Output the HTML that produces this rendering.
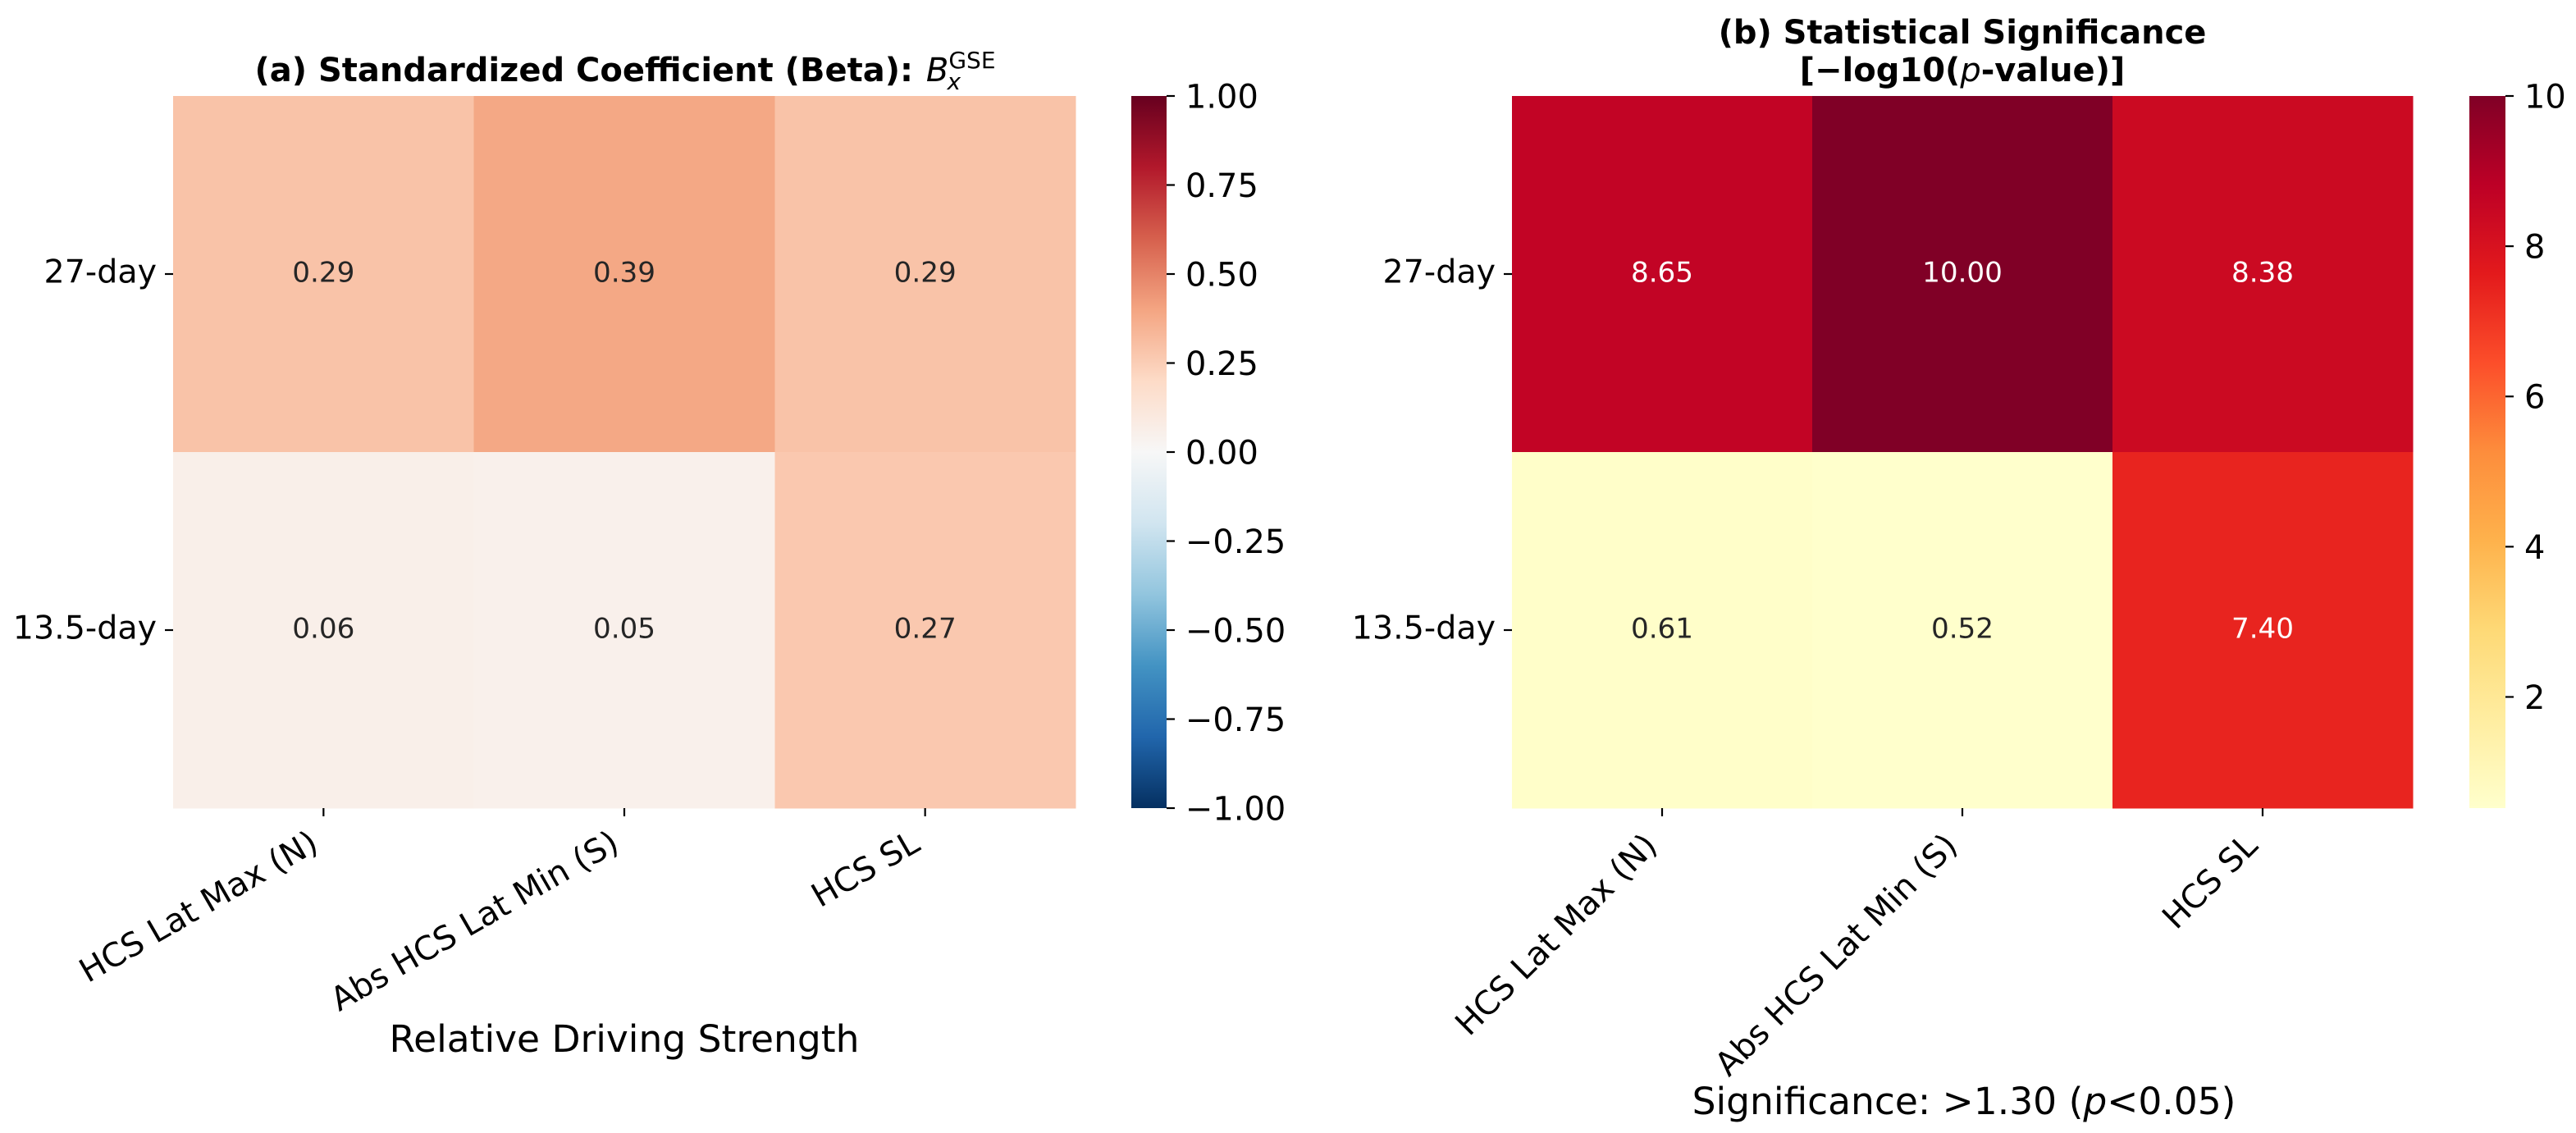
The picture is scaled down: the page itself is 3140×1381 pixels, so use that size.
<!DOCTYPE html>
<html lang="en">
<head>
<meta charset="utf-8">
<title>Standardized Coefficient and Statistical Significance Heatmaps</title>
<style>
  html, body { margin: 0; padding: 0; background: #fff; width: 3140px; height: 1381px; overflow: hidden; }
  svg { display: block; font-family: "DejaVu Sans", "Liberation Sans", sans-serif; }
  text { fill: #000; }
</style>
</head>
<body>
<svg id="figure" xmlns="http://www.w3.org/2000/svg" width="3140" height="1381" viewBox="0 0 3140 1381">
  <rect x="0" y="0" width="3140" height="1381" fill="#ffffff"/>

  <text x="762" y="99" text-anchor="middle" font-size="40" font-weight="700">(a) Standardized Coefficient (Beta): <tspan font-weight="400" font-style="italic" dx="2">B</tspan><tspan font-weight="400" font-size="28" dy="-16">GSE</tspan><tspan font-weight="400" font-style="italic" font-size="28" dx="-59" dy="26">x</tspan><tspan font-size="1" dx="42"> </tspan></text>

  <text x="2392" y="53" text-anchor="middle" font-size="40" font-weight="700">(b) Statistical Significance</text>
  <text x="2392" y="99" text-anchor="middle" font-size="40" font-weight="700">[−log10(<tspan font-weight="400" font-style="italic">p</tspan>-value)]</text>

  <text x="761" y="1282" text-anchor="middle" font-size="45.5">Relative Driving Strength</text>
  <text x="2394" y="1358" text-anchor="middle" font-size="45.5">Significance: &gt;1.30 (<tspan font-style="italic">p</tspan>&lt;0.05)</text>
</svg>

<script>
// ---- chart data ----
const columnLabels = ['HCS Lat Max (N)', 'Abs HCS Lat Min (S)', 'HCS SL'];
const rowLabels = ['27-day', '13.5-day'];

const betaRow27 = [0.29, 0.39, 0.29];
const betaRow135 = [0.06, 0.05, 0.27];
const significanceRow27 = [8.65, 10.00, 8.38];
const significanceRow135 = [0.61, 0.52, 7.40];

const betaTicks = [1.00, 0.75, 0.50, 0.25, 0.00, -0.25, -0.50, -0.75, -1.00];
const significanceTicks = [10, 8, 6, 4, 2];

// colormap anchor colours
const rdBuR = ['#053061', '#2166ac', '#4393c3', '#92c5de', '#d1e5f0', '#f7f7f7', '#fddbc7', '#f4a582', '#d6604d', '#b2182b', '#67001f'];
const ylOrRd = ['#ffffcc', '#ffeda0', '#fed976', '#feb24c', '#fd8d3c', '#fc4e2a', '#e31a1c', '#bd0026', '#800026'];

// ---- helpers ----
const NS = 'http://www.w3.org/2000/svg';
const svg = document.getElementById('figure');

function hexToRgb(h) {
  return [parseInt(h.slice(1, 3), 16), parseInt(h.slice(3, 5), 16), parseInt(h.slice(5, 7), 16)];
}
function sampleRgb(map, t) {
  const c = Math.max(0, Math.min(1, t)) * (map.length - 1);
  const i = Math.min(Math.floor(c), map.length - 2);
  const f = c - i;
  const a = hexToRgb(map[i]);
  const b = hexToRgb(map[i + 1]);
  return a.map((v, k) => Math.round(v + (b[k] - v) * f));
}
function luminance(rgb) {
  const lin = rgb.map(v => {
    const s = v / 255;
    return s <= 0.03928 ? s / 12.92 : Math.pow((s + 0.055) / 1.055, 2.4);
  });
  return 0.2126 * lin[0] + 0.7152 * lin[1] + 0.0722 * lin[2];
}
function makeShape(tag, name, attrs) {
  const el = document.createElementNS(NS, tag);
  for (const k in attrs) el.setAttribute(k, attrs[k]);
  
  
  svg.appendChild(el);
  return el;
}
function makeText(name, str, attrs) {
  const el = makeShape('text', name, attrs);
  el.textContent = str;
  return el;
}

// ---- panel renderer ----
function drawPanel(p) {
  const cellW = (p.right - p.left) / columnLabels.length;
  const cellH = (p.bottom - p.top) / rowLabels.length;
  const xCenter = i => p.left + cellW * (i + 0.5);
  const yCenter = j => p.top + cellH * (j + 0.5);
  const norm = v => (v - p.vmin) / (p.vmax - p.vmin);
  const barY = v => p.bottom - norm(v) * (p.bottom - p.top);

  p.rows.forEach((row, j) => {
    row.forEach((v, i) => {
      const rgb = sampleRgb(p.map, norm(v));
      makeShape('rect', p.id + '-cell-' + rowLabels[j] + '-' + (i + 1), {
        x: p.left + cellW * i, y: p.top + cellH * j,
        width: cellW + 0.4, height: cellH + 0.4,
        fill: 'rgb(' + rgb.join(',') + ')', 'shape-rendering': 'crispEdges'
      });
      makeText(p.id + '-cell-value-' + rowLabels[j] + '-' + (i + 1), v.toFixed(2), {
        x: xCenter(i), y: yCenter(j) + 9.5, 'text-anchor': 'middle', 'font-size': 34.2,
        style: 'fill:' + (luminance(rgb) < 0.408 ? '#ffffff' : '#262626')
      });
    });
  });

  rowLabels.forEach((label, j) => {
    makeShape('line', p.id + '-y-tick-' + label, {
      x1: p.left - 10, x2: p.left, y1: yCenter(j), y2: yCenter(j),
      stroke: '#000', 'stroke-width': 2.2
    });
    makeText(p.id + '-y-tick-label-' + label, label, {
      x: p.left - 20, y: yCenter(j) + 10.5, 'text-anchor': 'end', 'font-size': 39.6
    });
  });

  columnLabels.forEach((label, i) => {
    const x = xCenter(i);
    makeShape('line', p.id + '-x-tick-' + (i + 1), {
      x1: x, x2: x, y1: p.bottom, y2: p.bottom + 10, stroke: '#000', 'stroke-width': 2.2
    });
    const ax = x + p.labelDx;
    const ay = p.bottom + p.labelDy;
    makeText(p.id + '-x-tick-label-' + (i + 1), label, {
      x: ax, y: ay, 'text-anchor': 'end', 'font-size': 39.9,
      transform: 'rotate(' + (-p.angle) + ' ' + ax + ' ' + ay + ')'
    });
  });

  // colour bar
  let defs = svg.querySelector('defs');
  if (!defs) { defs = document.createElementNS(NS, 'defs'); svg.appendChild(defs); }
  const grad = document.createElementNS(NS, 'linearGradient');
  grad.setAttribute('id', p.id + '-gradient');
  grad.setAttribute('x1', '0'); grad.setAttribute('y1', '1');
  grad.setAttribute('x2', '0'); grad.setAttribute('y2', '0');
  p.map.forEach((c, k) => {
    const s = document.createElementNS(NS, 'stop');
    s.setAttribute('offset', k / (p.map.length - 1));
    s.setAttribute('stop-color', c);
    grad.appendChild(s);
  });
  defs.appendChild(grad);
  makeShape('rect', p.id + '-colorbar', {
    x: p.barLeft, y: p.top, width: p.barRight - p.barLeft, height: p.bottom - p.top,
    fill: 'url(#' + p.id + '-gradient)'
  });
  p.ticks.forEach(t => {
    const y = barY(t);
    makeShape('line', p.id + '-colorbar-tick-' + t, {
      x1: p.barRight, x2: p.barRight + 10, y1: y, y2: y, stroke: '#000', 'stroke-width': 2.2
    });
    const str = (p.decimals ? t.toFixed(p.decimals) : String(t)).replace('-', '\u2212');
    makeText(p.id + '-colorbar-tick-label-' + t, str, {
      x: p.barRight + 23, y: y + 14.5, 'font-size': 39.9
    });
  });
}

drawPanel({
  id: 'beta', left: 211, right: 1311, top: 117, bottom: 985,
  barLeft: 1379, barRight: 1422, vmin: -1, vmax: 1, map: rdBuR,
  rows: [betaRow27, betaRow135], ticks: betaTicks, decimals: 2,
  angle: 30, labelDx: -4, labelDy: 50
});
drawPanel({
  id: 'significance', left: 1843, right: 2941, top: 117, bottom: 985,
  barLeft: 3010, barRight: 3054, vmin: 0.52, vmax: 10, map: ylOrRd,
  rows: [significanceRow27, significanceRow135], ticks: significanceTicks, decimals: 0,
  angle: 45, labelDx: -4, labelDy: 48
});
</script>
</body>
</html>
